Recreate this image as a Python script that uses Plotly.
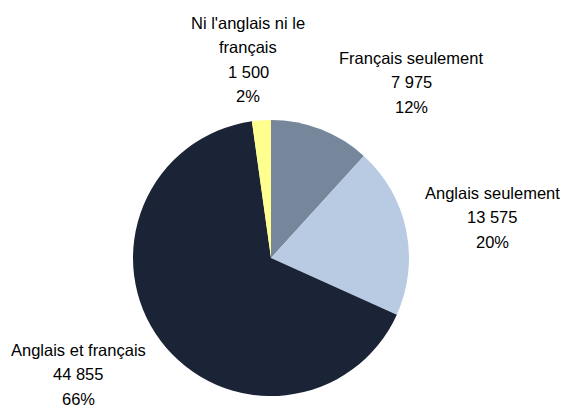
import plotly.graph_objects as go

labels = ["Français seulement", "Anglais seulement", "Anglais et français", "Ni l'anglais ni le français"]
label_lines = [["Français seulement"], ["Anglais seulement"], ["Anglais et français"], ["Ni l'anglais ni le", "français"]]
values = [7975, 13575, 44855, 1500]
colors = ["#76869b", "#b9cbe3", "#1b2336", "#ffff8f"]

W, H = 569, 408
cx, cy, r = 271, 258, 138

fig = go.Figure(go.Pie(
    labels=labels, values=values, sort=False, direction="clockwise", rotation=0,
    marker=dict(colors=colors, line=dict(width=0)),
    textinfo="none", hoverinfo="label+value+percent",
    domain=dict(x=[(cx - r) / W, (cx + r) / W], y=[(H - cy - r) / H, (H - cy + r) / H]),
    showlegend=False,
))

total = sum(values)
def fmt(v):
    return f"{v:,}".replace(",", " ")

# label anchor: (center x, y of first line) in pixels
anchors = [(411, 58), (492, 193), (78, 350), (248, 23)]
step = 24.4
ann = []
for i, (lines, v) in enumerate(zip(label_lines, values)):
    all_lines = lines + [fmt(v), f"{round(100 * v / total)}%"]
    x0, y0 = anchors[i]
    for j, t in enumerate(all_lines):
        ann.append(dict(x=x0 / W, y=1 - (y0 + j * step) / H, xref="paper", yref="paper",
                        text=t, showarrow=False, xanchor="center", yanchor="middle", borderpad=0,
                        font=dict(family="Liberation Sans, Arial, sans-serif", size=16.5, color="#000000")))

fig.update_layout(width=W, height=H, margin=dict(l=0, r=0, t=0, b=0),
                  paper_bgcolor="white", plot_bgcolor="white", annotations=ann)
fig.write_html("out.html", config={"displayModeBar": False},
               post_script="document.body.style.margin='0';")
